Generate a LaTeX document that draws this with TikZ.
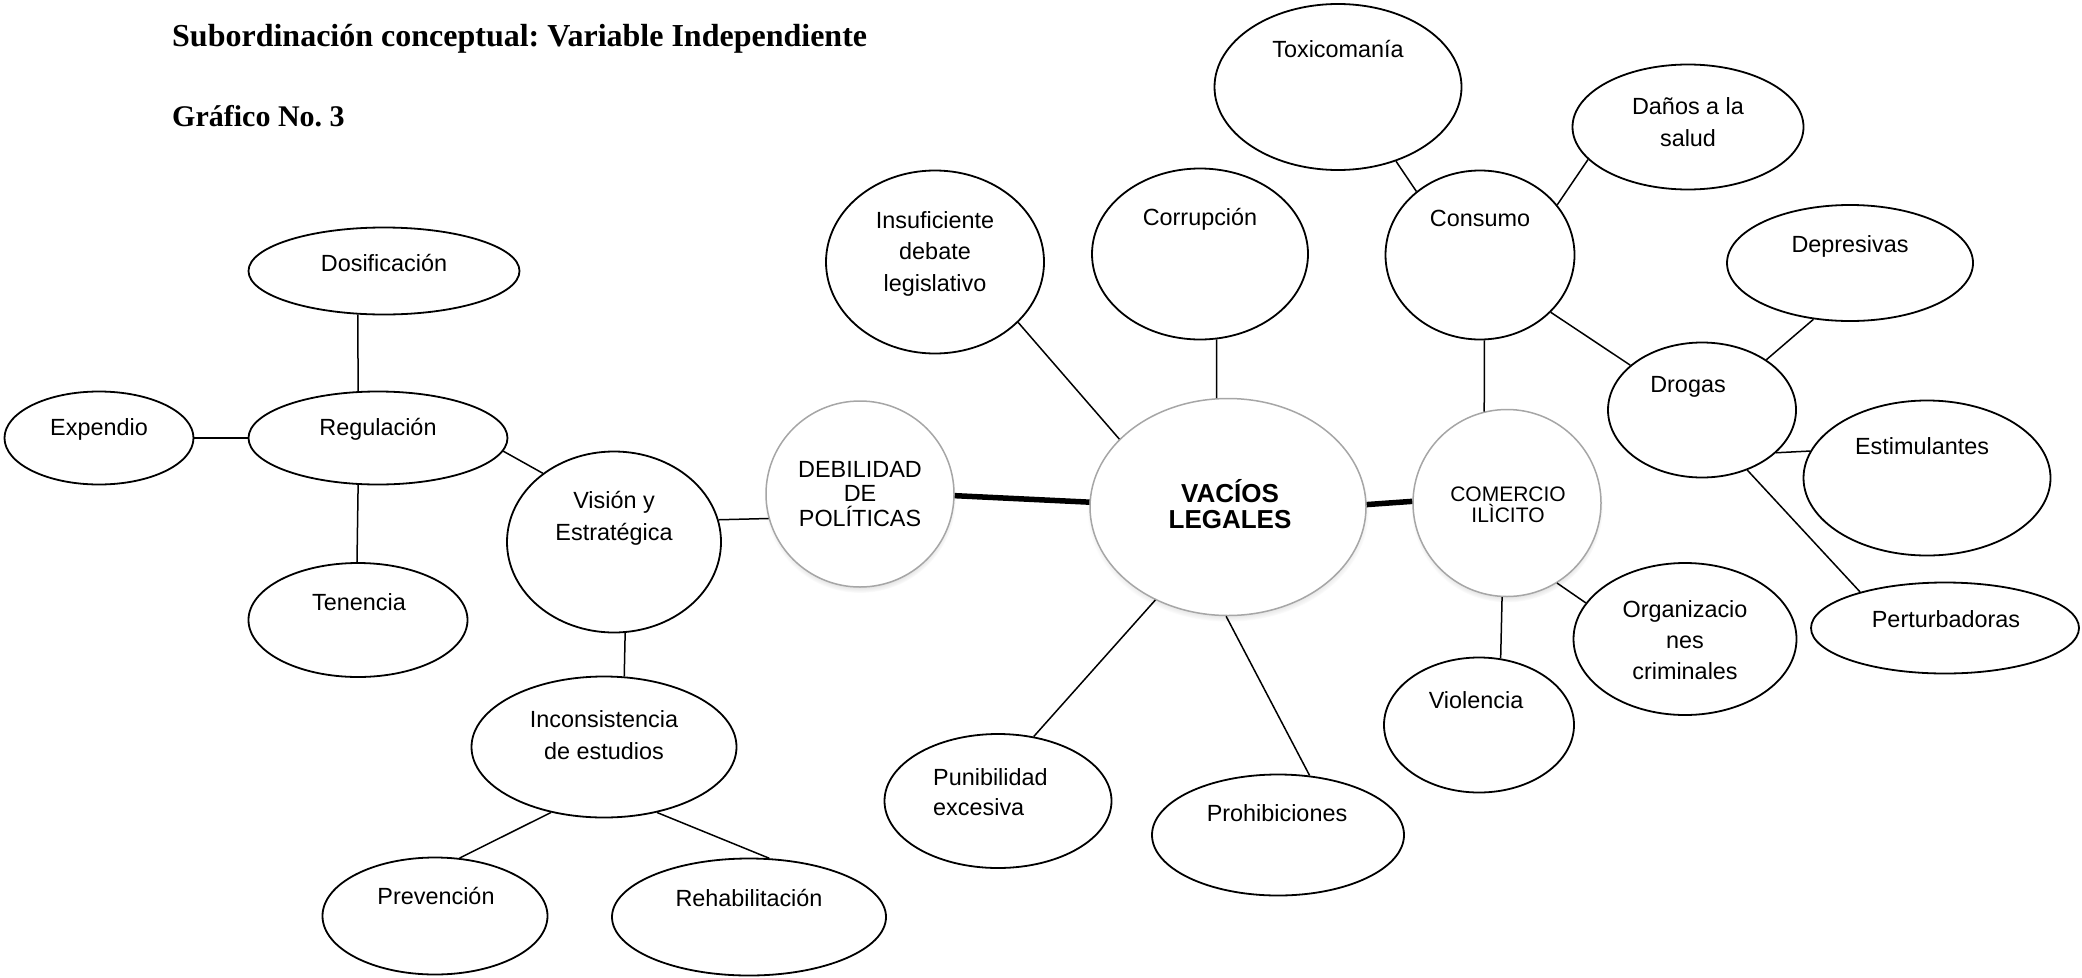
\documentclass[tikz,border=0pt]{standalone}
\usepackage{fontspec}
\setmainfont{Liberation Sans}
\newfontfamily\titlefont{Liberation Serif}
\usetikzlibrary{shapes.geometric,shadows}
\frenchspacing

\tikzset{
  bub/.style={draw, ellipse, line width=1.8pt, inner sep=0pt},
  hub/.style={ellipse, draw=gray!70, fill=white, line width=1.5pt, inner sep=0pt,
    circular drop shadow={shadow xshift=0pt, shadow yshift=-4pt, shadow scale=1.02, opacity=0.5}},
  txt/.style={inner sep=0pt, align=center, anchor=base, font=\fontsize{23.4}{31.5}\selectfont},
  link/.style={line width=1.5pt},
  biglink/.style={line width=5.5pt}
}

\begin{document}
\begin{tikzpicture}[x=1pt, y=-1pt]
	\useasboundingbox (0,0) rectangle (2082,977);

	\node[anchor=base west, inner sep=0pt, font=\titlefont\bfseries\fontsize{32}{32}\selectfont] (title) at (172,46) {Subordinación conceptual: Variable Independiente};
	\node[anchor=base west, inner sep=0pt, font=\titlefont\bfseries\fontsize{30}{30}\selectfont] (grafico) at (172,126) {Gráfico No. 3};

	% centro
	\node[hub, minimum width=276, minimum height=217] (vacios) at (1228,507) {};
	\node[txt, font=\bfseries\fontsize{26}{26}\selectfont] (vacios-t) at (1230,528) {VACÍOS\\LEGALES};
	\node[hub, minimum width=188, minimum height=186] (debil) at (860,494) {};
	\node[txt, font=\fontsize{23.4}{24.5}\selectfont] (debil-t) at (860,526) {DEBILIDAD\\DE\\POLÍTICAS};
	\node[hub, minimum width=188, minimum height=187] (comercio) at (1507,503) {};
	\node[txt, font=\fontsize{21}{21}\selectfont] (comercio-t) at (1508,522) {COMERCIO\\ILÌCITO};

	% alrededor de vacios legales
	\node[bub, minimum width=218, minimum height=183] (insuf) at (935,262) {};
	\node[txt] (insuf-t) at (935,291) {Insuficiente\\debate\\legislativo};
	\node[bub, minimum width=216, minimum height=171] (corrup) at (1200,254) {};
	\node[txt] (corrup-t) at (1200,225) {Corrupción};
	\node[bub, minimum width=227, minimum height=134] (punib) at (998,801) {};
	\node[txt, align=left, anchor=base west, font=\fontsize{23.4}{30}\selectfont] (punib-t) at (933,815) {Punibilidad\\excesiva};
	\node[bub, minimum width=252, minimum height=121] (prohib) at (1278,835) {};
	\node[txt] (prohib-t) at (1277,821) {Prohibiciones};

	% comercio ilicito
	\node[bub, minimum width=247, minimum height=166] (toxi) at (1338,87) {};
	\node[txt] (toxi-t) at (1338,57) {Toxicomanía};
	\node[bub, minimum width=231, minimum height=125] (danos) at (1688,127) {};
	\node[txt] (danos-t) at (1688,146) {Daños a la\\salud};
	\node[bub, minimum width=189, minimum height=169] (consumo) at (1480,255) {};
	\node[txt] (consumo-t) at (1480,226) {Consumo};
	\node[bub, minimum width=246, minimum height=116] (depres) at (1850,263) {};
	\node[txt] (depres-t) at (1850,252) {Depresivas};
	\node[bub, minimum width=188, minimum height=135] (drogas) at (1702,410) {};
	\node[txt] (drogas-t) at (1688,392) {Drogas};
	\node[bub, minimum width=247, minimum height=155] (estim) at (1927,478) {};
	\node[txt] (estim-t) at (1922,454) {Estimulantes};
	\node[bub, minimum width=268, minimum height=91] (pertur) at (1945,628) {};
	\node[txt] (pertur-t) at (1946,627) {Perturbadoras};
	\node[bub, minimum width=223, minimum height=152] (organ) at (1685,639) {};
	\node[txt, font=\fontsize{23.4}{31}\selectfont] (organ-t) at (1685,679) {Organizacio\\nes\\criminales};
	\node[bub, minimum width=190, minimum height=135] (viol) at (1479,725) {};
	\node[txt] (viol-t) at (1476,708) {Violencia};

	% debilidad de politicas
	\node[bub, minimum width=214, minimum height=181] (vision) at (614,542) {};
	\node[txt, font=\fontsize{23.4}{32}\selectfont] (vision-t) at (614,540) {Visión y\\Estratégica};
	\node[bub, minimum width=259, minimum height=93] (regul) at (378,438) {};
	\node[txt] (regul-t) at (378,435) {Regulación};
	\node[bub, minimum width=271, minimum height=87] (dosif) at (384,271) {};
	\node[txt] (dosif-t) at (384,271) {Dosificación};
	\node[bub, minimum width=189, minimum height=93] (expend) at (99,438) {};
	\node[txt] (expend-t) at (99,435) {Expendio};
	\node[bub, minimum width=219, minimum height=114] (tenen) at (358,620) {};
	\node[txt] (tenen-t) at (359,610) {Tenencia};
	\node[bub, minimum width=265, minimum height=141] (incons) at (604,747) {};
	\node[txt, font=\fontsize{23.4}{32}\selectfont] (incons-t) at (604,759) {Inconsistencia\\de estudios};
	\node[bub, minimum width=225, minimum height=117] (preven) at (435,916) {};
	\node[txt] (preven-t) at (436,904) {Prevención};
	\node[bub, minimum width=274, minimum height=117] (rehab) at (749,917) {};
	\node[txt] (rehab-t) at (749,906) {Rehabilitación};

	\draw[biglink] (debil.-1.8) -- (vacios.178.3);
	\draw[biglink] (vacios.1) -- (comercio.179);

	\draw[link] (vacios.96.3) -- (corrup.-79.5);
	\draw[link] (vacios.148.9) -- (insuf.-36.6);
	\draw[link] (vacios.-128.3) -- (punib.61.4);
	\draw[link] (vacios.-91) -- (prohib.62.7);

	\draw[link] (comercio.104.3) -- (consumo.-87.4);
	\draw[link] (comercio.-58.5) -- (organ.160.5);
	\draw[link] (comercio.-93.2) -- (viol.72.6);
	\draw[link] (consumo.135.9) -- (toxi.-52.3);
	\draw[link] (consumo.33.9) -- (danos.-162.9);
	\draw[link] (consumo.-39.6) -- (drogas.148.6);
	\draw[link] (drogas.38.6) -- (depres.-123.2);
	\draw[link] (drogas.-30.6) -- (estim.167.8);
	\draw[link] (drogas.-53.4) -- (pertur.157.4);

	\draw[link] (debil.-165.2) -- (vision.12.9);
	\draw[link] (vision.136.2) -- (regul.-6.2);
	\draw[link] (vision.-83.7) -- (incons.74.7);
	\draw[link] (regul.113.5) -- (dosif.-121.2);
	\draw[link] (regul.west) -- (expend.east);
	\draw[link] (regul.-113.2) -- (tenen.91);
	\draw[link] (incons.-129.5) -- (preven.67.9);
	\draw[link] (incons.-51) -- (rehab.71.6);
\end{tikzpicture}
\end{document}
